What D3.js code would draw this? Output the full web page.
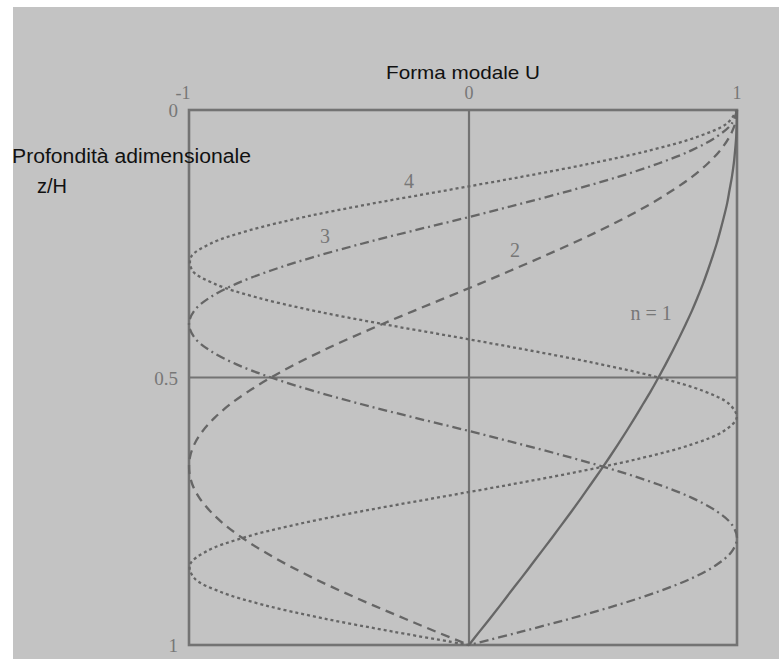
<!DOCTYPE html>
<html>
<head>
<meta charset="utf-8">
<script src="https://cdn.jsdelivr.net/npm/d3@7"></script>
<style>
  html, body { margin: 0; padding: 0; background: #ffffff; }
  svg { display: block; }
</style>
</head>
<body>
<script>
// Dimensionless depth z/H, sampled every 0.025 from the surface (0) to the base (1)
const depth = [0, 0.025, 0.05, 0.075, 0.1, 0.125, 0.15, 0.175, 0.2, 0.225,
  0.25, 0.275, 0.3, 0.325, 0.35, 0.375, 0.4, 0.425, 0.45, 0.475,
  0.5, 0.525, 0.55, 0.575, 0.6, 0.625, 0.65, 0.675, 0.7, 0.725,
  0.75, 0.775, 0.8, 0.825, 0.85, 0.875, 0.9, 0.925, 0.95, 0.975, 1];

// Modal shape U for each mode n at the depths above
const mode1 = [1, 0.999, 0.997, 0.993, 0.988, 0.981, 0.972, 0.963, 0.951, 0.938,
  0.924, 0.908, 0.891, 0.873, 0.853, 0.832, 0.809, 0.785, 0.760, 0.734,
  0.707, 0.679, 0.649, 0.619, 0.588, 0.556, 0.523, 0.489, 0.454, 0.419,
  0.383, 0.346, 0.309, 0.271, 0.233, 0.195, 0.156, 0.118, 0.079, 0.039, 0];
const mode2 = [1, 0.993, 0.972, 0.938, 0.891, 0.832, 0.760, 0.679, 0.588, 0.489,
  0.383, 0.271, 0.156, 0.039, -0.079, -0.195, -0.309, -0.419, -0.523, -0.619,
  -0.707, -0.785, -0.853, -0.908, -0.951, -0.981, -0.997, -0.999, -0.988, -0.963,
  -0.924, -0.873, -0.809, -0.734, -0.649, -0.556, -0.454, -0.346, -0.233, -0.118, 0];
const mode3 = [1, 0.981, 0.924, 0.832, 0.707, 0.556, 0.383, 0.195, 0, -0.195,
  -0.383, -0.556, -0.707, -0.832, -0.924, -0.981, -1, -0.981, -0.924, -0.832,
  -0.707, -0.556, -0.383, -0.195, 0, 0.195, 0.383, 0.556, 0.707, 0.832,
  0.924, 0.981, 1, 0.981, 0.924, 0.832, 0.707, 0.556, 0.383, 0.195, 0];
const mode4 = [1, 0.963, 0.853, 0.679, 0.454, 0.195, -0.079, -0.346, -0.588, -0.785,
  -0.924, -0.993, -0.988, -0.908, -0.760, -0.556, -0.309, -0.039, 0.233, 0.489,
  0.707, 0.873, 0.972, 0.999, 0.951, 0.832, 0.649, 0.419, 0.156, -0.118,
  -0.383, -0.619, -0.809, -0.938, -0.997, -0.981, -0.891, -0.734, -0.523, -0.271, 0];

const modeValues = [mode1, mode2, mode3, mode4];
const modeNames = ["n = 1", "2", "3", "4"];
const modeDash = [null, "9,6", "9,4,2,4", "3,3"];
// label anchor (U, z/H) for each mode
const labelU = [0.68, 0.172, -0.514, -0.214];
const labelZ = [0.393, 0.275, 0.249, 0.146];

const xTicks = [-1, 0, 1];
const xTickText = ["-1", "0", "1"];
const yTicks = [0, 0.5, 1];
const yTickText = ["0", "0.5", "1"];

const W = 779, H = 659;
const svg = d3.select("body").append("svg").attr("width", W).attr("height", H);

// grey panel
svg.append("rect").attr("x", 13).attr("y", 7).attr("width", W - 13).attr("height", H - 7)
  .attr("fill", "#c3c3c3");

const x = d3.scaleLinear().domain([-1, 0, 1]).range([189, 469, 737]);
const y = d3.scaleLinear().domain([0, 1]).range([110, 645]);

const lineCol = "#666666";
const frameCol = "#737373";

// reference lines U = 0 and z/H = 0.5
svg.append("line").attr("x1", x(0)).attr("x2", x(0)).attr("y1", y(0)).attr("y2", y(1))
  .attr("stroke", frameCol).attr("stroke-width", 2.2);
svg.append("line").attr("x1", x(-1)).attr("x2", x(1)).attr("y1", y(0.5)).attr("y2", y(0.5))
  .attr("stroke", frameCol).attr("stroke-width", 2.2);

// frame
svg.append("rect").attr("x", x(-1)).attr("y", y(0))
  .attr("width", x(1) - x(-1)).attr("height", y(1) - y(0))
  .attr("fill", "none").attr("stroke", frameCol).attr("stroke-width", 2.6);

// mode shapes
const line = d3.line()
  .x(d => x(d[0]))
  .y(d => y(d[1]))
  .curve(d3.curveCatmullRom.alpha(0.5));

modeValues.forEach((vals, k) => {
  const pts = vals.map((u, i) => [u, depth[i]]);
  svg.append("path").attr("d", line(pts))
    .attr("fill", "none")
    .attr("stroke", lineCol)
    .attr("stroke-width", 2.3)
    .attr("stroke-dasharray", modeDash[k]);
});

const serif = "'Liberation Serif', 'DejaVu Serif', serif";
const tickCol = "#777777";

// mode labels
modeNames.forEach((name, k) => {
  svg.append("text").attr("x", x(labelU[k])).attr("y", y(labelZ[k]))
    .attr("font-family", serif).attr("font-size", 20).attr("fill", tickCol)
    .attr("text-anchor", "middle").text(name);
});

// top axis tick labels
xTicks.forEach((t, i) => {
  svg.append("text").attr("x", x(t) - (t < 0 ? 6 : 0)).attr("y", 99)
    .attr("font-family", serif).attr("font-size", 18).attr("fill", tickCol)
    .attr("text-anchor", "middle").text(xTickText[i]);
});

// left axis tick labels
yTicks.forEach((t, i) => {
  svg.append("text").attr("x", 178).attr("y", y(t) + 7)
    .attr("font-family", serif).attr("font-size", 19).attr("fill", tickCol)
    .attr("text-anchor", "end").text(yTickText[i]);
});

// axis titles
const sans = "'Liberation Sans', Arial, sans-serif";
svg.append("text").attr("x", 463).attr("y", 79)
  .attr("font-family", sans).attr("font-size", 19).attr("fill", "#111")
  .attr("text-anchor", "middle")
  .attr("textLength", 154).attr("lengthAdjust", "spacingAndGlyphs")
  .text("Forma modale U");
svg.append("text").attr("x", 12).attr("y", 163)
  .attr("font-family", sans).attr("font-size", 20).attr("fill", "#111")
  .attr("textLength", 239).attr("lengthAdjust", "spacingAndGlyphs")
  .text("Profondità adimensionale");
svg.append("text").attr("x", 37).attr("y", 193)
  .attr("font-family", sans).attr("font-size", 20).attr("fill", "#111")
  .text("z/H");
</script>
</body>
</html>
